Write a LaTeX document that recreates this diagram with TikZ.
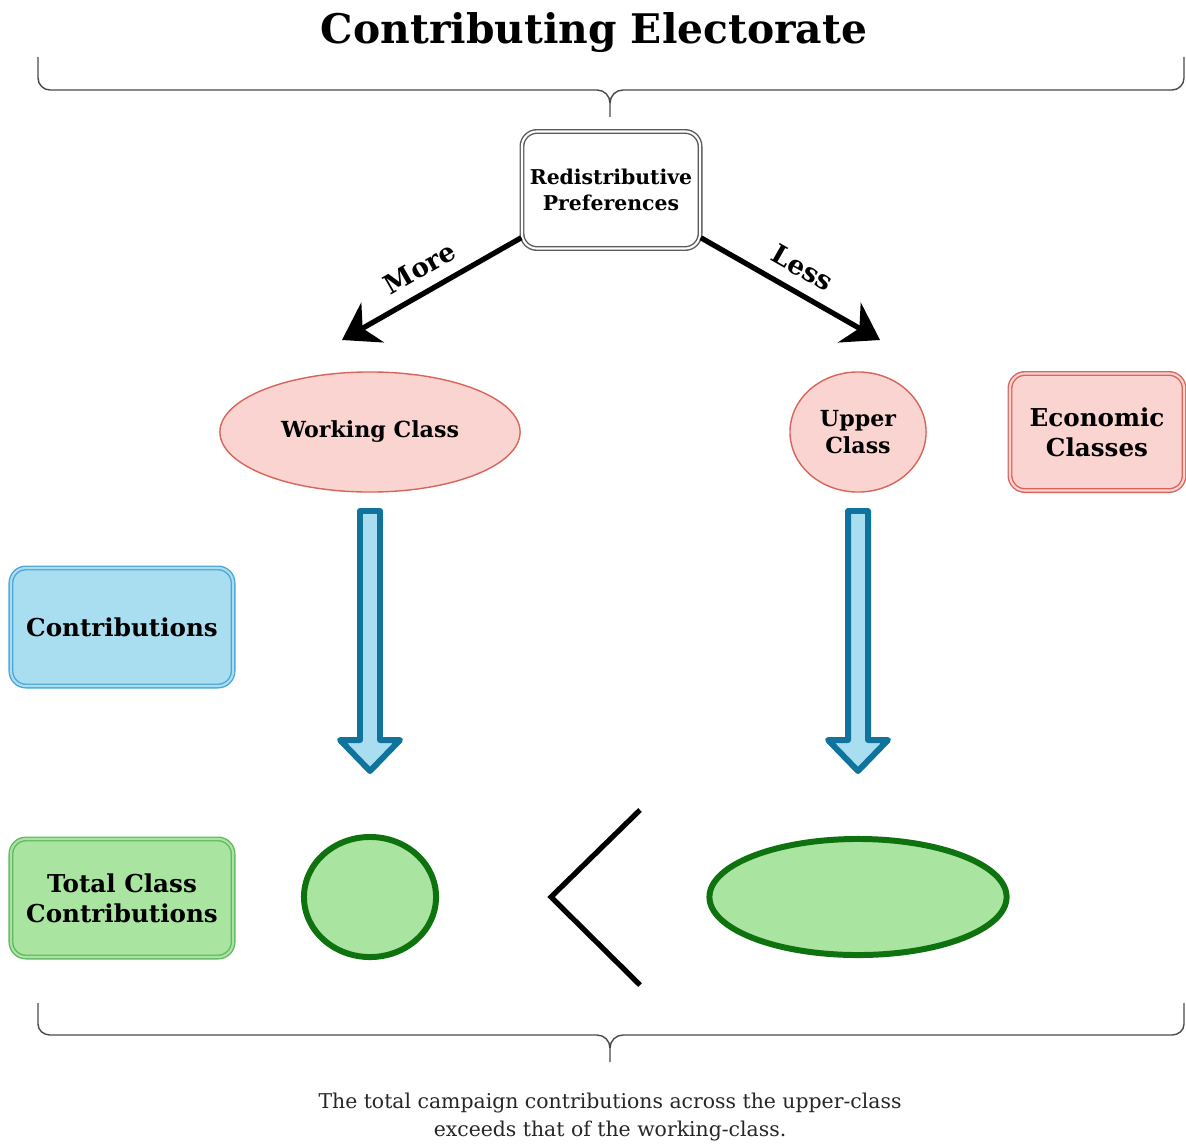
\documentclass[tikz,border=0pt]{standalone}
\usepackage{fontspec}
\setmainfont{DejaVu Serif}
\usetikzlibrary{arrows.meta,shapes.geometric}

\definecolor{pinkfill}{HTML}{FAD4D0}
\definecolor{pinkline}{HTML}{D9645A}
\definecolor{bluefill}{HTML}{A9DEF0}
\definecolor{blueline}{HTML}{4DA6D8}
\definecolor{arrowblue}{HTML}{10739E}
\definecolor{greenfill}{HTML}{A9E4A0}
\definecolor{greenline}{HTML}{62B862}
\definecolor{darkgreen}{HTML}{0E730E}
\definecolor{bracegray}{HTML}{4A4A4A}

\begin{document}
\begin{tikzpicture}[x=0.01cm, y=-0.01cm,
  legend/.style={shape=rectangle, rounded corners=0.15cm, line width=0.4pt, double distance=0.6pt, align=center, inner sep=0pt, font=\fontsize{7}{8.6}\selectfont\bfseries},
  classnode/.style={shape=ellipse, draw=pinkline, fill=pinkfill, line width=0.4pt, align=center, inner sep=0pt, font=\fontsize{6.3}{7.8}\selectfont\bfseries},
  total/.style={shape=ellipse, draw=darkgreen, fill=greenfill, line width=1.7pt, inner sep=0pt},
  hollow/.style={draw=arrowblue, fill=bluefill, line width=1.7pt, line join=round},
  brace/.style={draw=bracegray, line width=0.4pt},
  choice/.style={line width=1.5pt, -{Stealth[length=10pt, width=13pt]}},
  choicelabel/.style={sloped, above, font=\fontsize{7.5}{8}\selectfont\bfseries}
]
\useasboundingbox (0,0) rectangle (1186,1146);

% title and braces
\node[font=\fontsize{11.6}{14}\selectfont\bfseries, anchor=base] (title) at (594,44) {Contributing Electorate};
\draw[brace] (38,57) -- (38,78) to[out=-90,in=180] (50,90) -- (597,90) to[out=0,in=90] (610,103) -- (610,117);
\draw[brace] (1184,57) -- (1184,78) to[out=-90,in=0] (1172,90) -- (623,90) to[out=180,in=90] (610,103);
\draw[brace] (38,1003) -- (38,1024) to[out=-90,in=180] (50,1035) -- (597,1035) to[out=0,in=90] (610,1048) -- (610,1062);
\draw[brace] (1184,1003) -- (1184,1024) to[out=-90,in=0] (1172,1035) -- (623,1035) to[out=180,in=90] (610,1048);

% preferences
\node[shape=rectangle, rounded corners=0.15cm, draw=black!65, double=white, double distance=0.6pt, line width=0.4pt, minimum width=1.78cm, minimum height=1.17cm, align=center, inner sep=0pt, font=\fontsize{5.8}{7.6}\selectfont\bfseries] (pref) at (611,190) {Redistributive\\Preferences};
\coordinate (moreEnd) at (342,340);
\coordinate (lessEnd) at (880,340);
\draw[choice] (pref.208) -- node[choicelabel] {More} (moreEnd);
\draw[choice] (pref.-28) -- node[choicelabel] {Less} (lessEnd);

% classes
\node[classnode, minimum width=3.0cm, minimum height=1.2cm] (work) at (370,432) {Working Class};
\node[classnode, minimum width=1.36cm, minimum height=1.2cm] (upper) at (858,432) {Upper\\Class};
\node[legend, draw=pinkline, double=pinkfill, fill=pinkfill, minimum width=1.74cm, minimum height=1.17cm] (econ) at (1097,432) {Economic\\Classes};

% contributions
\node[legend, draw=blueline, double=bluefill, fill=bluefill, minimum width=2.22cm, minimum height=1.18cm] (contrib) at (122,627) {Contributions};
\foreach \x in {370,858}
  \draw[hollow] ({\x-10},511) -- ({\x+10},511) -- ({\x+10},740) -- ({\x+30},740) -- (\x,771) -- ({\x-30},740) -- ({\x-10},740) -- cycle;

% totals
\node[legend, draw=greenline, double=greenfill, fill=greenfill, minimum width=2.22cm, minimum height=1.18cm] (totals) at (122,898) {Total Class\\Contributions};
\node[total, minimum width=1.32cm, minimum height=1.2cm] (workTotal) at (370,897) {};
\node[total, minimum width=2.97cm, minimum height=1.16cm] (upperTotal) at (858,897) {};
\draw[line width=1.5pt] (640,810) -- (551,897) -- (640,985);

% caption
\node[align=center, text=black!85, font=\fontsize{5.8}{8}\selectfont] (caption) at (610,1117) {The total campaign contributions across the upper-class\\exceeds that of the working-class.};
\end{tikzpicture}
\end{document}
